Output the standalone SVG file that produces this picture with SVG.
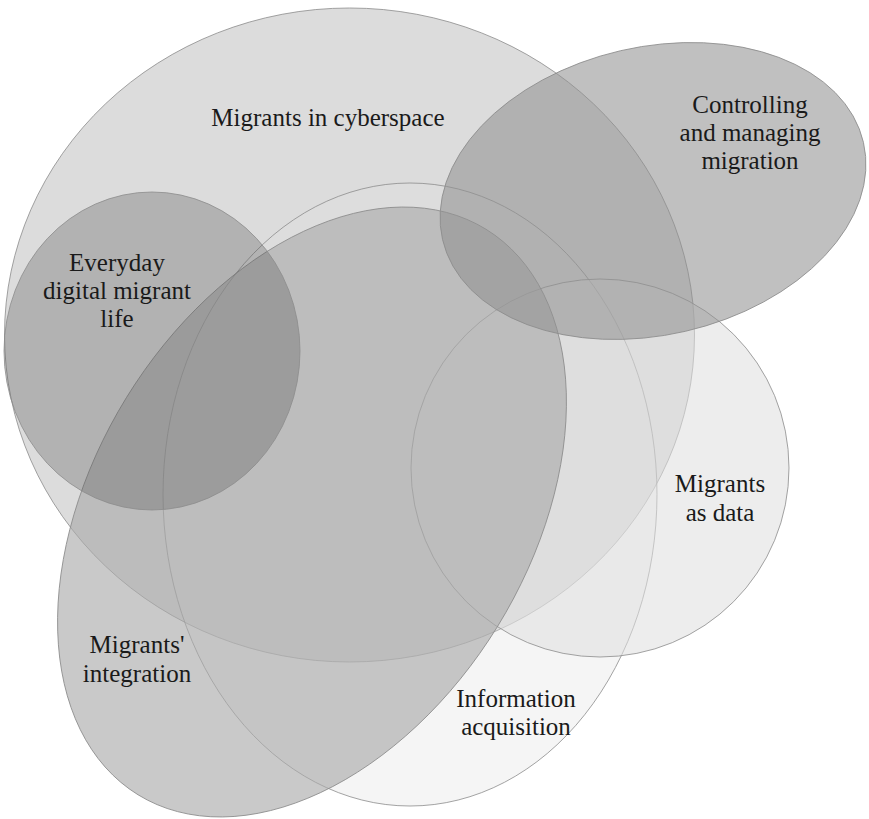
<svg xmlns="http://www.w3.org/2000/svg" width="869" height="819" viewBox="0 0 869 819">
<style>
.s{stroke:#8c8c8c;stroke-width:0.8}
.t{font-family:"Liberation Serif","Times New Roman",serif;font-size:25px;fill:#1a1a1a;text-anchor:middle}
</style>
<rect width="869" height="819" fill="#ffffff"/>
<g id="cyberspace">
<ellipse class="s" cx="349.5" cy="335" rx="345" ry="327" fill="#dcdcdc"/>
</g>
<g id="information">
<ellipse class="s" cx="410" cy="494.5" rx="247" ry="311.5" fill="#dedede" fill-opacity="0.31"/>
</g>
<g id="data">
<circle class="s" cx="600" cy="468" r="189" fill="#dfdfdf" fill-opacity="0.56"/>
</g>
<g id="integration">
<ellipse class="s" cx="312" cy="512" rx="332" ry="218" transform="rotate(-58.4 312 512)" fill="#a9a9a9" fill-opacity="0.63"/>
</g>
<g id="everyday">
<ellipse class="s" cx="152" cy="351" rx="148" ry="159" fill="#494949" fill-opacity="0.28"/>
</g>
<g id="controlling">
<ellipse class="s" cx="653" cy="191" rx="216" ry="144" transform="rotate(-13 653 191)" fill="#919191" fill-opacity="0.57"/>
</g>
<g id="labels">
<text class="t" x="328" y="126">Migrants in cyberspace</text>
<text class="t" x="750" y="113">Controlling</text>
<text class="t" x="750" y="141">and managing</text>
<text class="t" x="750" y="169">migration</text>
<text class="t" x="117" y="271">Everyday</text>
<text class="t" x="117" y="299">digital migrant</text>
<text class="t" x="117" y="327">life</text>
<text class="t" x="720" y="492">Migrants</text>
<text class="t" x="720" y="521">as data</text>
<text class="t" x="137" y="653">Migrants'</text>
<text class="t" x="137" y="682">integration</text>
<text class="t" x="516" y="707">Information</text>
<text class="t" x="516" y="735">acquisition</text>
</g>
<g id="connectors"/>
</svg>
